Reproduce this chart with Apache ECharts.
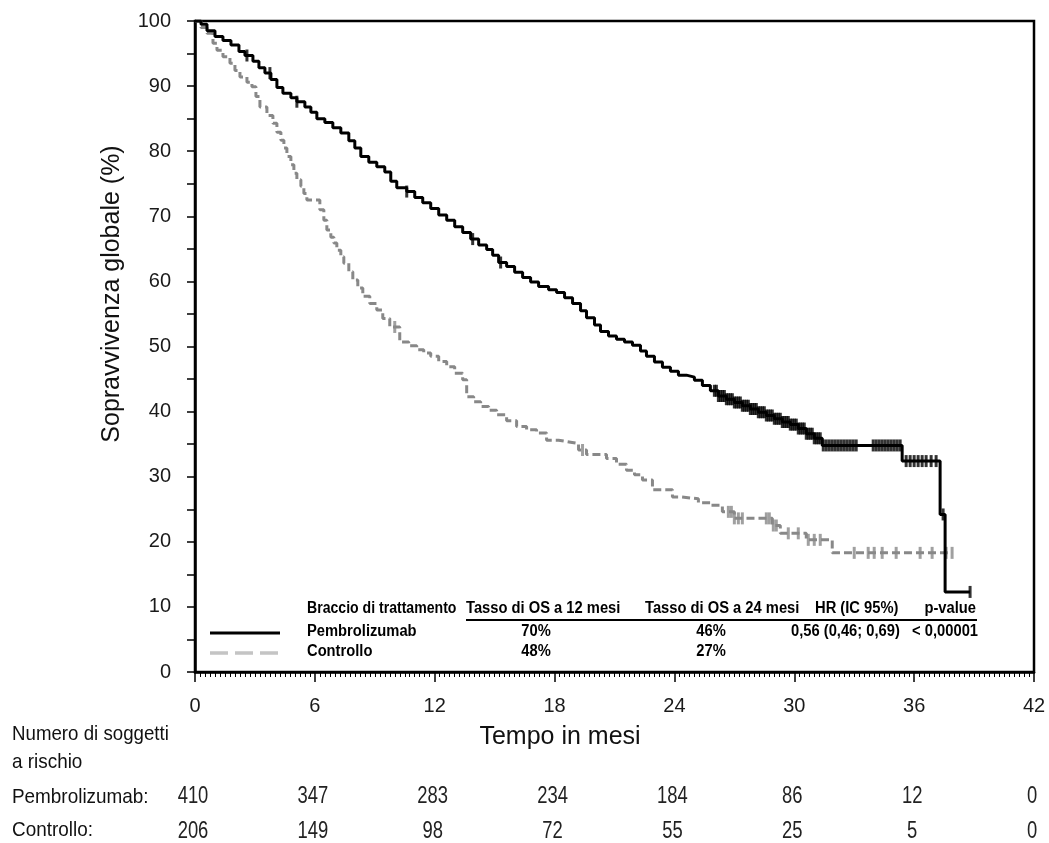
<!DOCTYPE html>
<html>
<head>
<meta charset="utf-8">
<script src="https://cdn.jsdelivr.net/npm/echarts@6/dist/echarts.min.js"></script>
<style>
  html, body { margin: 0; padding: 0; background: #fff; }
  #chart { width: 1049px; height: 843px; }
</style>
</head>
<body>
<div id="chart"></div>
<script>
// Kaplan–Meier overall survival, pembrolizumab vs control (months, %)
const monthTicks = [0, 6, 12, 18, 24, 30, 36, 42];

const pembroTime = [0, 0.3, 0.6, 1.0, 1.4, 1.8, 2.2, 2.5, 2.9, 3.2, 3.5, 3.8, 4.1, 4.4, 4.8, 5.1, 5.5, 5.8,
  6.1, 6.5, 6.9, 7.3, 7.7, 8.0, 8.3, 8.7, 9.1, 9.5, 9.8, 10.1, 10.6, 11.0, 11.4, 11.8,
  12.2, 12.6, 13.0, 13.4, 13.8, 14.2, 14.6, 14.9, 15.2, 15.6, 16.0, 16.4, 16.8, 17.2, 17.7,
  18.1, 18.5, 18.9, 19.3, 19.6, 20.0, 20.3, 20.7, 21.1, 21.5, 21.9, 22.3, 22.6, 23.0, 23.4, 23.8,
  24.2, 24.6, 25.0, 25.4, 25.8, 26.2, 26.6, 27.0, 27.4, 27.8, 28.2, 28.6, 29.0, 29.4, 29.8,
  30.2, 30.6, 31.0, 31.4, 35.4, 37.3, 37.55, 38.8];
const pembroSurv = [100, 99.5, 98.5, 97.6, 97.0, 96.3, 95.3, 94.7, 93.8, 92.8, 92.0, 91.0, 89.8, 88.9, 88.2, 87.6, 86.8, 86.0,
  85.0, 84.4, 83.6, 82.8, 81.6, 80.5, 79.2, 78.3, 77.6, 76.8, 75.4, 74.4, 73.8, 72.9, 72.1, 71.2,
  70.2, 69.4, 68.4, 67.5, 66.5, 65.6, 64.9, 64.0, 62.9, 62.3, 61.4, 60.6, 59.9, 59.2, 58.7,
  58.3, 57.5, 56.6, 55.5, 54.4, 53.3, 52.3, 51.6, 51.1, 50.7, 50.2, 49.3, 48.5, 47.6, 46.8, 46.2,
  45.6, 45.3, 44.8, 44.0, 43.2, 42.4, 41.9, 41.4, 40.9, 40.4, 39.9, 39.4, 38.9, 38.4, 38.0,
  37.4, 36.6, 35.9, 34.8, 32.4, 24.2, 12.3, 12.3];
const pembroCensored = [2.6, 3.75, 5.1, 10.6, 13.9, 15.3,
  26.0, 26.1, 26.2, 26.3, 26.4, 26.5, 26.6, 26.7, 26.8, 26.9, 27.0, 27.1, 27.2, 27.3, 27.4, 27.5,
  27.6, 27.7, 27.8, 27.9, 28.0, 28.1, 28.2, 28.3, 28.4, 28.5, 28.6, 28.7, 28.8, 28.9, 29.0, 29.1,
  29.2, 29.3, 29.4, 29.5, 29.6, 29.7, 29.8, 29.9, 30.0, 30.1, 30.2, 30.3, 30.4, 30.5, 30.6, 30.7,
  30.8, 30.9, 31.0, 31.1, 31.2, 31.3, 31.45, 31.6, 31.75, 31.9, 32.05, 32.2, 32.35, 32.5, 32.65,
  32.8, 32.95, 33.1, 33.95, 34.1, 34.25, 34.4, 34.55, 34.7, 34.85, 35.0, 35.15, 35.3,
  35.6, 35.8, 36.0, 36.2, 36.4, 36.6, 36.85, 37.1, 37.45, 38.8];

const controlTime = [0, 0.3, 0.6, 0.9, 1.1, 1.4, 1.75, 2.0, 2.25, 2.6, 2.85, 3.05, 3.25, 3.6, 3.9, 4.1, 4.3,
  4.45, 4.6, 4.8, 4.95, 5.1, 5.3, 5.45, 5.6, 6.25, 6.45, 6.6, 6.8, 6.95, 7.1, 7.3, 7.45, 7.7, 7.9,
  8.15, 8.4, 8.75, 9.1, 9.4, 9.75, 10.25, 10.7, 11.1, 11.45, 11.8, 12.2, 12.6, 13.0, 13.4, 13.6,
  13.95, 14.3, 14.7, 15.1, 15.6, 16.1, 16.6, 17.1, 17.6, 18.2, 18.8, 19.2, 19.6, 20.6, 21.1, 21.6,
  22.0, 22.4, 22.9, 23.9, 24.3, 25.2, 25.8, 26.4, 27.0, 28.9, 29.3, 30.6, 31.9, 37.9];
const controlSurv = [100, 99.0, 98.1, 96.6, 95.5, 94.5, 93.5, 92.4, 91.4, 90.6, 89.9, 88.4, 86.8, 85.5, 84.3, 82.9, 81.7,
  80.5, 79.2, 77.9, 76.6, 75.6, 74.6, 73.5, 72.5, 71.0, 69.4, 67.9, 66.8, 65.9, 64.8, 63.8, 62.8, 61.5, 60.2,
  59.0, 57.7, 56.6, 55.6, 54.3, 53.0, 50.7, 50.1, 49.5, 49.0, 48.5, 47.7, 46.9, 45.9, 44.9, 42.3,
  41.5, 40.8, 40.2, 39.5, 38.6, 37.7, 37.2, 36.7, 35.6, 35.3, 35.1, 34.1, 33.4, 32.8, 31.9, 31.0,
  30.3, 29.5, 28.0, 26.9, 26.6, 26.0, 25.6, 24.6, 23.6, 22.5, 21.3, 20.3, 18.3, 18.3];
const controlCensored = [10.0, 19.4, 26.7, 26.85, 27.0, 27.2, 27.4, 28.6, 28.75, 28.95, 29.1, 29.7, 30.2,
  30.7, 31.0, 31.3, 33.0, 33.7, 34.0, 34.4, 35.1, 36.3, 36.9, 37.6, 37.9];

const atRiskPembro = [410, 347, 283, 234, 184, 86, 12, 0];
const atRiskControl = [206, 149, 98, 72, 55, 25, 5, 0];

const legendHeader = ['Braccio di trattamento', 'Tasso di OS a 12 mesi', 'Tasso di OS a 24 mesi', 'HR (IC 95%)', 'p-value'];
const pembroRow = ['Pembrolizumab', '70%', '46%', '0,56 (0,46; 0,69)', '< 0,00001'];
const controlRow = ['Controllo', '48%', '27%'];

// survival value of a step curve at time t (puts each censor mark on its curve)
function survivalAt(times, surv, t) {
  let s = surv[0];
  for (let i = 0; i < times.length; i++) {
    if (times[i] <= t + 1e-9) s = surv[i]; else break;
  }
  return s;
}
const pairs = (xs, ys) => xs.map((x, i) => [x, ys[i]]);

const sans = '"Liberation Sans", Arial, sans-serif';

// condensed text: regular face squeezed horizontally
function narrowText(x, y, text, size, opts = {}) {
  return {
    type: 'text', x: x, y: y, scaleX: opts.scaleX || 0.9, scaleY: 1,
    style: {
      text: text, font: (opts.bold ? 'bold ' : '') + size + 'px ' + sans,
      fill: opts.fill || '#000', align: opts.align || 'left', verticalAlign: 'middle'
    }
  };
}

const chart = echarts.init(document.getElementById('chart'), null, { renderer: 'canvas' });

const option = {
  animation: false,
  backgroundColor: '#fff',
  grid: { left: 195, right: 15, top: 21, bottom: 171, show: true, borderColor: '#000', borderWidth: 2.5, backgroundColor: 'transparent' },
  xAxis: {
    type: 'value', min: 0, max: 42, interval: 6,
    axisLine: { lineStyle: { color: '#000', width: 2.5 } },
    axisTick: { inside: false, length: 10, lineStyle: { color: '#000', width: 1.5 } },
    minorTick: { show: true, splitNumber: 24, length: 5, lineStyle: { color: '#000', width: 1 } },
    splitLine: { show: false },
    axisLabel: { margin: 24, fontFamily: sans, fontSize: 20, color: '#1a1a1a' }
  },
  yAxis: {
    type: 'value', min: 0, max: 100, interval: 10,
    axisLine: { show: true, lineStyle: { color: '#000', width: 2.5 } },
    axisTick: { show: true, length: 8, lineStyle: { color: '#000', width: 1.5 } },
    minorTick: { show: true, splitNumber: 2, length: 8, lineStyle: { color: '#000', width: 1.5 } },
    splitLine: { show: false },
    axisLabel: { margin: 24, fontFamily: sans, fontSize: 20, color: '#1a1a1a' }
  },
  series: [
    {
      name: 'Controllo', type: 'line', step: 'end', showSymbol: false, symbol: 'none',
      data: pairs(controlTime, controlSurv),
      lineStyle: { color: '#888888', width: 3, type: [8, 4] }, z: 2
    },
    {
      name: 'Controllo censurati', type: 'scatter', symbol: 'rect', symbolSize: [3, 12],
      data: controlCensored.map(t => [t, survivalAt(controlTime, controlSurv, t)]),
      itemStyle: { color: '#888888' }, z: 3
    },
    {
      name: 'Pembrolizumab', type: 'line', step: 'end', showSymbol: false, symbol: 'none',
      data: pairs(pembroTime, pembroSurv),
      lineStyle: { color: '#000', width: 3 }, z: 4
    },
    {
      name: 'Pembrolizumab censurati', type: 'scatter', symbol: 'rect', symbolSize: [3, 12],
      data: pembroCensored.map(t => [t, survivalAt(pembroTime, pembroSurv, t)]),
      itemStyle: { color: '#000' }, z: 5
    }
  ]
};
chart.setOption(option);

// texts: axis titles, legend table, number-at-risk table
const graphics = [
  { type: 'text', x: 112, y: 294, rotation: Math.PI / 2,
    style: { text: 'Sopravvivenza globale (%)', font: '25px ' + sans, fill: '#111', align: 'center', verticalAlign: 'middle' } },
  { type: 'text', x: 560, y: 737,
    style: { text: 'Tempo in mesi', font: '25px ' + sans, fill: '#111', align: 'center', verticalAlign: 'middle' } },

  narrowText(12, 734, 'Numero di soggetti', 21, { fill: '#111', scaleX: 0.89 }),
  narrowText(12, 762, 'a rischio', 21, { fill: '#111' }),
  narrowText(12, 797, 'Pembrolizumab:', 21, { fill: '#111' }),
  narrowText(12, 830, 'Controllo:', 21, { fill: '#111' }),

  narrowText(307, 609, legendHeader[0], 16, { bold: true, scaleX: 0.88 }),
  narrowText(466, 609, legendHeader[1], 16, { bold: true, scaleX: 0.92 }),
  narrowText(645, 609, legendHeader[2], 16, { bold: true, scaleX: 0.92 }),
  narrowText(815, 609, legendHeader[3], 16, { bold: true, scaleX: 0.92 }),
  narrowText(976, 609, legendHeader[4], 16, { bold: true, scaleX: 0.92, align: 'right' }),
  { type: 'line', shape: { x1: 466, y1: 620, x2: 977, y2: 620 }, style: { stroke: '#000', lineWidth: 2 } },
  { type: 'line', shape: { x1: 210, y1: 633, x2: 280, y2: 633 }, style: { stroke: '#000', lineWidth: 3 } },
  { type: 'line', shape: { x1: 210, y1: 653, x2: 282, y2: 653 }, style: { stroke: '#c4c4c4', lineWidth: 3.5, lineDash: [18, 7] } },
  narrowText(307, 632, pembroRow[0], 16, { bold: true, scaleX: 0.92 }),
  narrowText(536, 632, pembroRow[1], 16, { bold: true, scaleX: 0.92, align: 'center' }),
  narrowText(711, 632, pembroRow[2], 16, { bold: true, scaleX: 0.92, align: 'center' }),
  narrowText(791, 632, pembroRow[3], 16, { bold: true, scaleX: 0.92 }),
  narrowText(978, 632, pembroRow[4], 16, { bold: true, scaleX: 0.92, align: 'right' }),
  narrowText(307, 652, controlRow[0], 16, { bold: true, scaleX: 0.92 }),
  narrowText(536, 652, controlRow[1], 16, { bold: true, scaleX: 0.92, align: 'center' }),
  narrowText(711, 652, controlRow[2], 16, { bold: true, scaleX: 0.92, align: 'center' })
];

// number at risk, placed under each month tick through the x scale
monthTicks.forEach((m, i) => {
  const px = chart.convertToPixel({ xAxisIndex: 0 }, m);
  graphics.push(narrowText(px - 2, 797, String(atRiskPembro[i]), 23, { fill: '#222', align: 'center', scaleX: 0.8 }));
  graphics.push(narrowText(px - 2, 832, String(atRiskControl[i]), 23, { fill: '#222', align: 'center', scaleX: 0.8 }));
});

chart.setOption({ graphic: graphics });
</script>
</body>
</html>
